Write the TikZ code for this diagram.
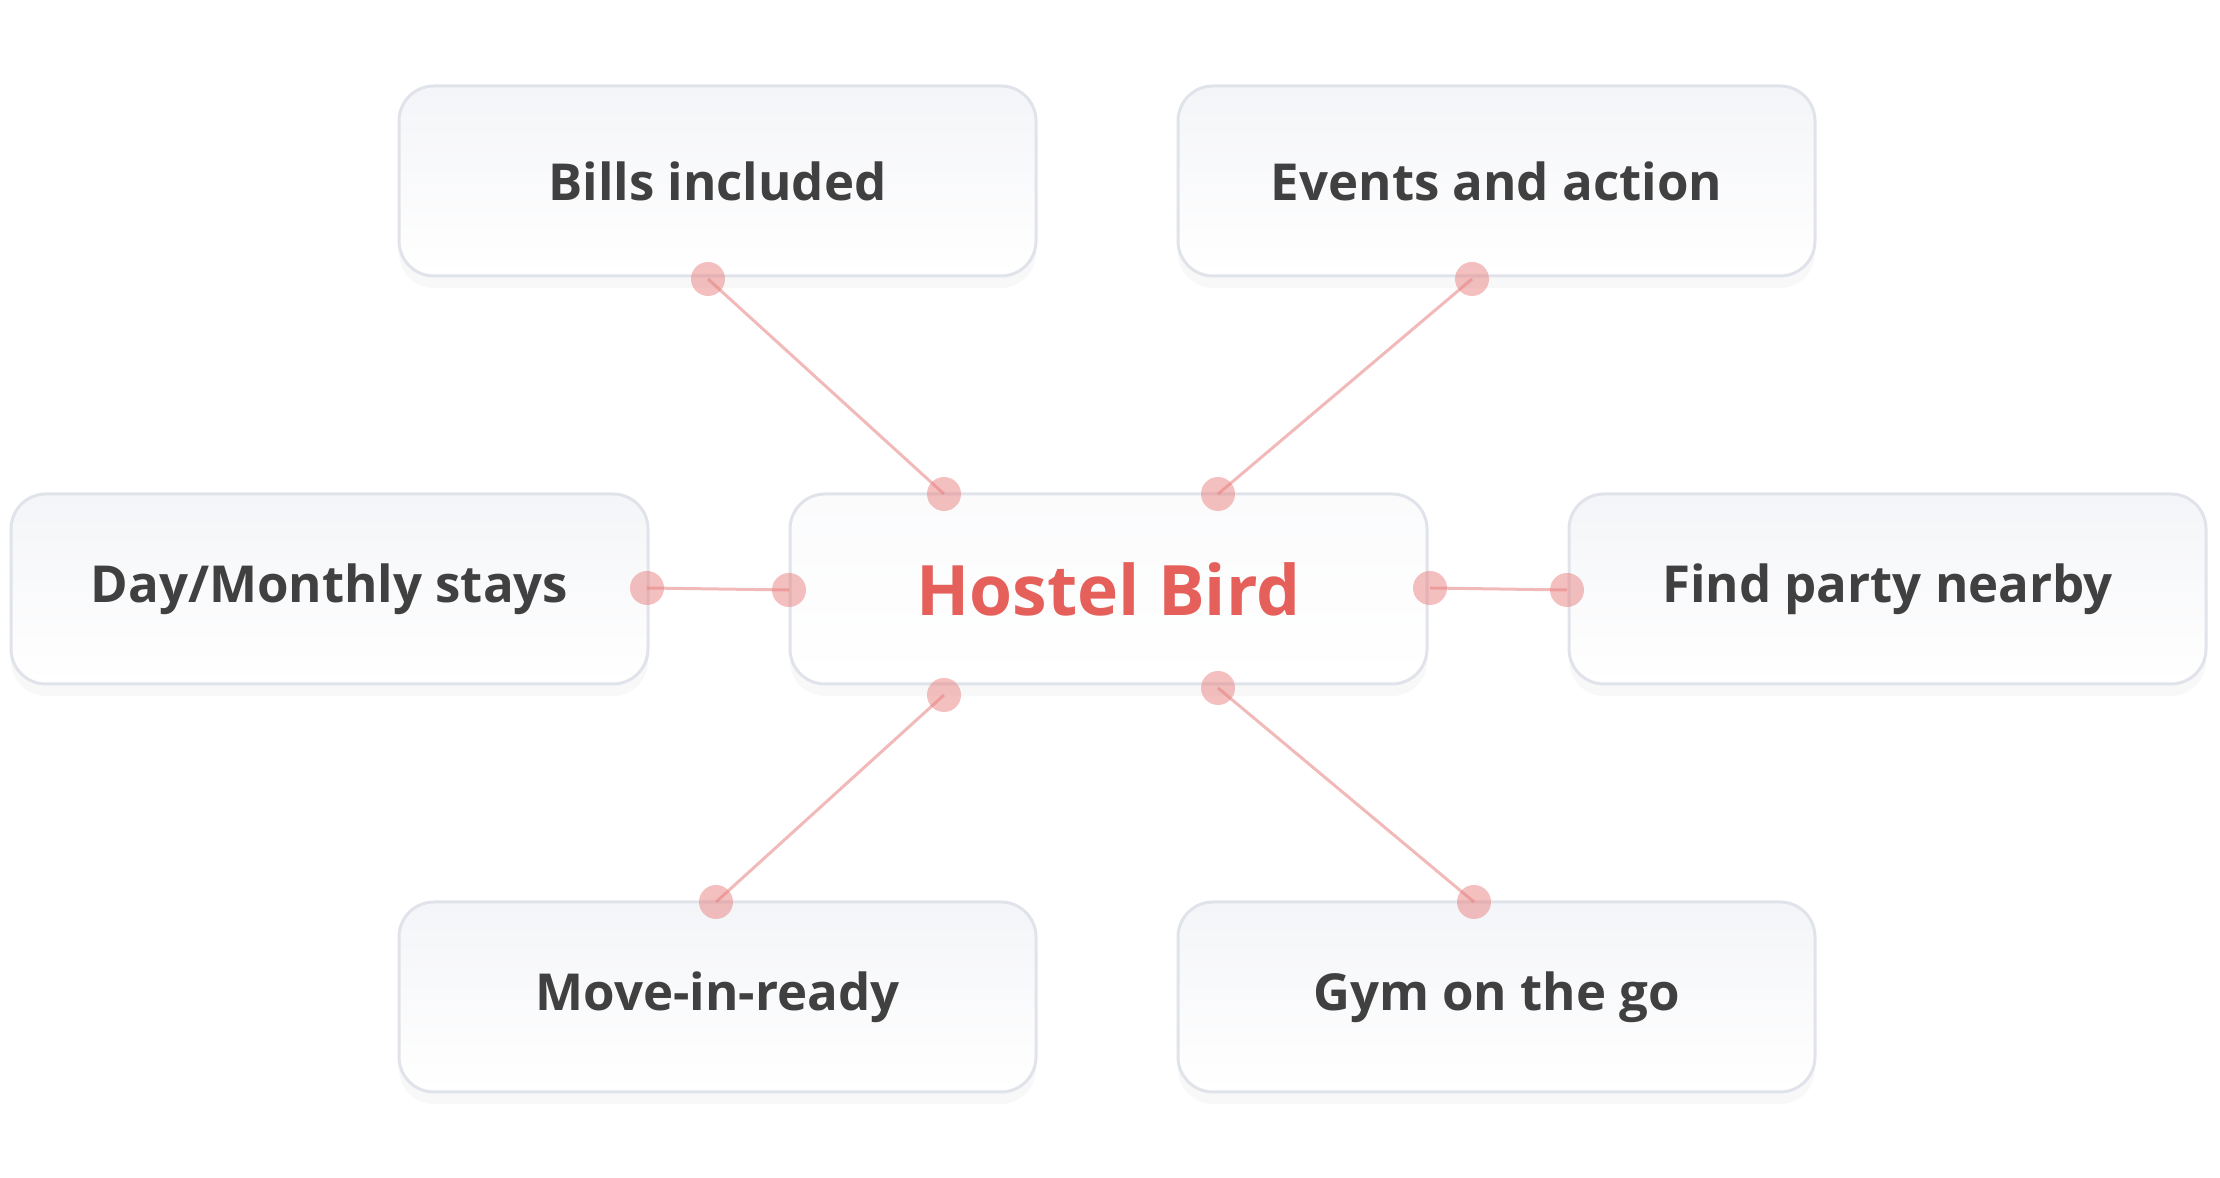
\documentclass[tikz,border=0pt]{standalone}
\usepackage{fontspec}
\setmainfont{Open Sans}
\usepackage{tikz}
\usetikzlibrary{shapes,positioning,shadows}
\usepackage{xcolor}
\definecolor{hbred}{RGB}{229,96,90}
\definecolor{hbpink}{RGB}{232,128,128}
\definecolor{hbtext}{RGB}{64,64,64}
\definecolor{hbborder}{RGB}{224,227,233}
\definecolor{hbtop}{RGB}{244,245,248}
\tikzstyle{feature} = [rectangle, rounded corners=3.5mm, minimum width=63.7mm, minimum height=19mm, text centered, draw=hbborder, line width=0.3mm, top color=hbtop, bottom color=white, drop shadow={opacity=0.06, shadow xshift=0mm, shadow yshift=-1.2mm}, font=\fontsize{14.5}{17}\selectfont\bfseries, text=hbtext]
\tikzstyle{hub} = [feature, top color=hbtop!40, font=\fontsize{19.8}{23}\selectfont\bfseries, text=hbred]
\tikzstyle{dot} = [circle, inner sep=0pt, minimum size=3.4mm, fill=hbpink, fill opacity=0.5]
\tikzstyle{link} = [line width=0.3mm, color=hbpink, opacity=0.55]

\begin{document}
\begin{tikzpicture}[x=0.1mm, y=-0.1mm]
\useasboundingbox (0,0) rectangle (2220,1178);

% Hub in center
\node[hub] (hostel) at (1108.5,589) {Hostel Bird};

% Features around hub
\node[feature] (bills) at (717.5,181) {Bills included};
\node[feature] (events) at (1496.5,181) {Events and action};
\node[feature] (stays) at (329.5,589) {Day/Monthly stays};
\node[feature] (party) at (1887.5,589) {Find party nearby};
\node[feature] (movein) at (717.5,997) {Move-in-ready};
\node[feature] (gym) at (1496.5,997) {Gym on the go};

% Connection dots
\node[dot] (bills-d) at (708,279) {};
\node[dot] (hostel-d1) at (944,494) {};
\node[dot] (events-d) at (1472,279) {};
\node[dot] (hostel-d2) at (1218,494) {};
\node[dot] (stays-d) at (647,588) {};
\node[dot] (hostel-d3) at (789,590) {};
\node[dot] (hostel-d4) at (1430,588) {};
\node[dot] (party-d) at (1567,590) {};
\node[dot] (hostel-d5) at (944,695) {};
\node[dot] (movein-d) at (716,902) {};
\node[dot] (hostel-d6) at (1218,688) {};
\node[dot] (gym-d) at (1474,902) {};

% Links
\draw[link] (bills-d.center) -- (hostel-d1.center);
\draw[link] (events-d.center) -- (hostel-d2.center);
\draw[link] (stays-d.center) -- (hostel-d3.center);
\draw[link] (hostel-d4.center) -- (party-d.center);
\draw[link] (hostel-d5.center) -- (movein-d.center);
\draw[link] (hostel-d6.center) -- (gym-d.center);
\end{tikzpicture}
\end{document}
